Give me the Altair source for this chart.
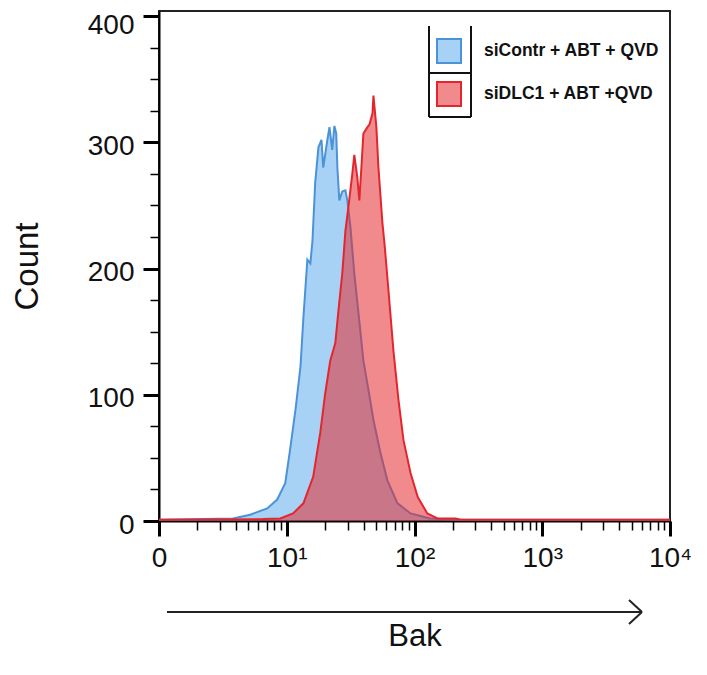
import altair as alt
import pandas as pd

# ---- data (x = Bak fluorescence, y = count) ----
blue_x = [1, 3.8, 5.17, 7.03, 8.42, 9.73, 10.6, 11.7, 12.8, 13.5, 14.5, 15.3, 15.9, 16.7,
          17.7, 18.7, 19.3, 20.8, 21.6, 22.7, 23.6, 24.4, 24.9, 25.8, 27.2, 28.8, 29.8,
          31.5, 33.8, 36.4, 39.8, 43.6, 47.7, 54.1, 61.4, 73.6, 93.1, 133, 230, 10000]
blue_y = [1, 2, 5, 10, 17, 30, 56, 88, 122, 161, 207, 204, 222, 268,
          296, 302, 280, 302, 312, 294, 313, 307, 280, 254, 261, 262, 254,
          233, 196, 165, 127, 104, 80, 54, 32, 14, 6, 2, 1, 1]

red_x = [1, 6.54, 8.89, 11.2, 13.5, 16.1, 18.3, 20.0, 21.9, 24.0, 25.3, 27.2, 28.8, 30.4,
         32.6, 33.8, 35.7, 37.0, 38.4, 39.8, 42.8, 44.4, 46.9, 47.7, 50.3, 52.2, 56.1,
         58.2, 62.5, 68.4, 74.9, 82.0, 93.1, 106, 126, 151, 210, 230, 10000]
red_y = [1, 1.5, 2, 6, 14, 35, 70, 101, 127, 141, 165, 196, 230, 249,
         275, 290, 272, 254, 280, 307, 312, 314, 323, 337, 312, 280, 236,
         220, 183, 135, 96, 64, 38, 19, 6, 2, 2, 1, 1]

series = ["siContr + ABT + QVD", "siDLC1 + ABT +QVD"]

x_major = [1, 10, 100, 1000, 10000]
x_minor = [m * d for d in [1, 10, 100, 1000] for m in range(2, 10)]
y_major = [0, 100, 200, 300, 400]
y_minor = [25, 50, 75, 125, 150, 175, 225, 250, 275, 325, 350, 375]

df = pd.concat([
    pd.DataFrame({"x": blue_x, "y": blue_y, "series": series[0]}),
    pd.DataFrame({"x": red_x, "y": red_y, "series": series[1]}),
])

W, H = 511, 510
FONT = "Liberation Sans"

xscale = alt.Scale(type="log", domain=[1, 10000], nice=False)
yscale = alt.Scale(domain=[0, 404], nice=False)
fill_scale = alt.Scale(domain=series,
                       range=["rgba(61,155,233,0.45)", "rgba(227,42,48,0.55)"])
stroke_scale = alt.Scale(domain=series, range=["#4a93d8", "#e3262d"])

label_expr = ("datum.value == 1 ? '0' : datum.value == 10 ? '10\u00b9' : "
              "datum.value == 100 ? '10\u00b2' : datum.value == 1000 ? '10\u00b3' : '10\u2074'")

x_major_axis = alt.Axis(values=x_major, labelExpr=label_expr, title="Bak", orient="bottom",
                        tickSize=15, tickWidth=3, tickColor="black", domainColor="black",
                        domainWidth=2, labelFont=FONT, labelFontSize=28, labelColor="#111",
                        labelPadding=8, labelFlush=False, labelOverlap=False, grid=False,
                        titleFont=FONT, titleFontSize=31,
                        titleFontWeight="normal", titleColor="#111",
                        titleBaseline="alphabetic", titleY=124)
x_minor_axis = alt.Axis(values=x_minor, labels=False, title=None, orient="bottom",
                        tickSize=9, tickWidth=1.5, tickColor="black", domain=False, grid=False)
y_major_axis = alt.Axis(values=y_major, title="Count", orient="left",
                        tickSize=16, tickWidth=3, tickColor="black", domainColor="black",
                        domainWidth=2, labelFont=FONT, labelFontSize=28, labelColor="#111",
                        labelPadding=9, labelFlush=False, labelOverlap=False,
                        labelOffset={"condition": {"test": "datum.value == 400", "value": 9},
                                     "value": 4},
                        grid=False, titleFont=FONT, titleFontSize=33,
                        titleFontWeight="normal", titleColor="#111", titlePadding=43)
y_minor_axis = alt.Axis(values=y_minor, labels=False, title=None, orient="left",
                        tickSize=9, tickWidth=1.5, tickColor="black", domain=False, grid=False)

legend = alt.Legend(title=None, orient="none", legendX=277, legendY=27, symbolType="square",
                    symbolSize=576, symbolStrokeWidth=2, labelFont=FONT,
                    labelFontWeight="bold", labelFontSize=17.5, labelColor="#111",
                    labelOffset=22, rowPadding=11, padding=0, labelLimit=400)

base = alt.Chart(df)

blue_area = base.transform_filter(alt.datum.series == series[0]).mark_area(
    interpolate="linear").encode(
    x=alt.X("x:Q", scale=xscale, axis=x_major_axis),
    y=alt.Y("y:Q", scale=yscale, axis=y_major_axis),
    fill=alt.Fill("series:N", scale=fill_scale, legend=legend),
)
blue_line = base.transform_filter(alt.datum.series == series[0]).mark_line(
    strokeWidth=2).encode(
    x=alt.X("x:Q", scale=xscale, axis=x_minor_axis),
    y=alt.Y("y:Q", scale=yscale, axis=y_minor_axis),
    stroke=alt.Stroke("series:N", scale=stroke_scale, legend=legend),
)
red_area = base.transform_filter(alt.datum.series == series[1]).mark_area(
    interpolate="linear").encode(
    x=alt.X("x:Q", scale=xscale, axis=None),
    y=alt.Y("y:Q", scale=yscale, axis=None),
    fill=alt.Fill("series:N", scale=fill_scale, legend=legend),
)
red_line = base.transform_filter(alt.datum.series == series[1]).mark_line(
    strokeWidth=2).encode(
    x=alt.X("x:Q", scale=xscale, axis=None),
    y=alt.Y("y:Q", scale=yscale, axis=None),
    stroke=alt.Stroke("series:N", scale=stroke_scale, legend=legend),
)

deco = alt.Chart(pd.DataFrame({"d": [0]}))
# legend box lines
box_l = deco.mark_rule(color="#111", strokeWidth=2).encode(
    x=alt.value(270), y=alt.value(15), y2=alt.value(106))
box_r = deco.mark_rule(color="#111", strokeWidth=2).encode(
    x=alt.value(312), y=alt.value(15), y2=alt.value(106))
box_m = deco.mark_rule(color="#111", strokeWidth=2).encode(
    x=alt.value(270), x2=alt.value(312), y=alt.value(62))
box_b = deco.mark_rule(color="#111", strokeWidth=2).encode(
    x=alt.value(270), x2=alt.value(312), y=alt.value(106))
# arrow under the x axis
arrow = deco.mark_rule(color="#222", strokeWidth=2).encode(
    x=alt.value(8), x2=alt.value(483), y=alt.value(601))
head1 = deco.mark_rule(color="#222", strokeWidth=2).encode(
    x=alt.value(470), y=alt.value(589), x2=alt.value(483), y2=alt.value(601))
head2 = deco.mark_rule(color="#222", strokeWidth=2).encode(
    x=alt.value(483), y=alt.value(601), x2=alt.value(470), y2=alt.value(613))

chart = alt.layer(
    blue_area, blue_line, red_area, red_line,
    box_l, box_r, box_m, box_b, arrow, head1, head2,
).resolve_axis(x="independent", y="independent").properties(
    width=W, height=H,
    autosize=alt.AutoSizeParams(type="none"),
    padding={"left": 151, "top": 3, "right": 25, "bottom": 150},
).configure(background="white").configure_view(stroke="#222", strokeWidth=2)

chart.save("out.html", embed_options={"renderer": "svg", "actions": False})
